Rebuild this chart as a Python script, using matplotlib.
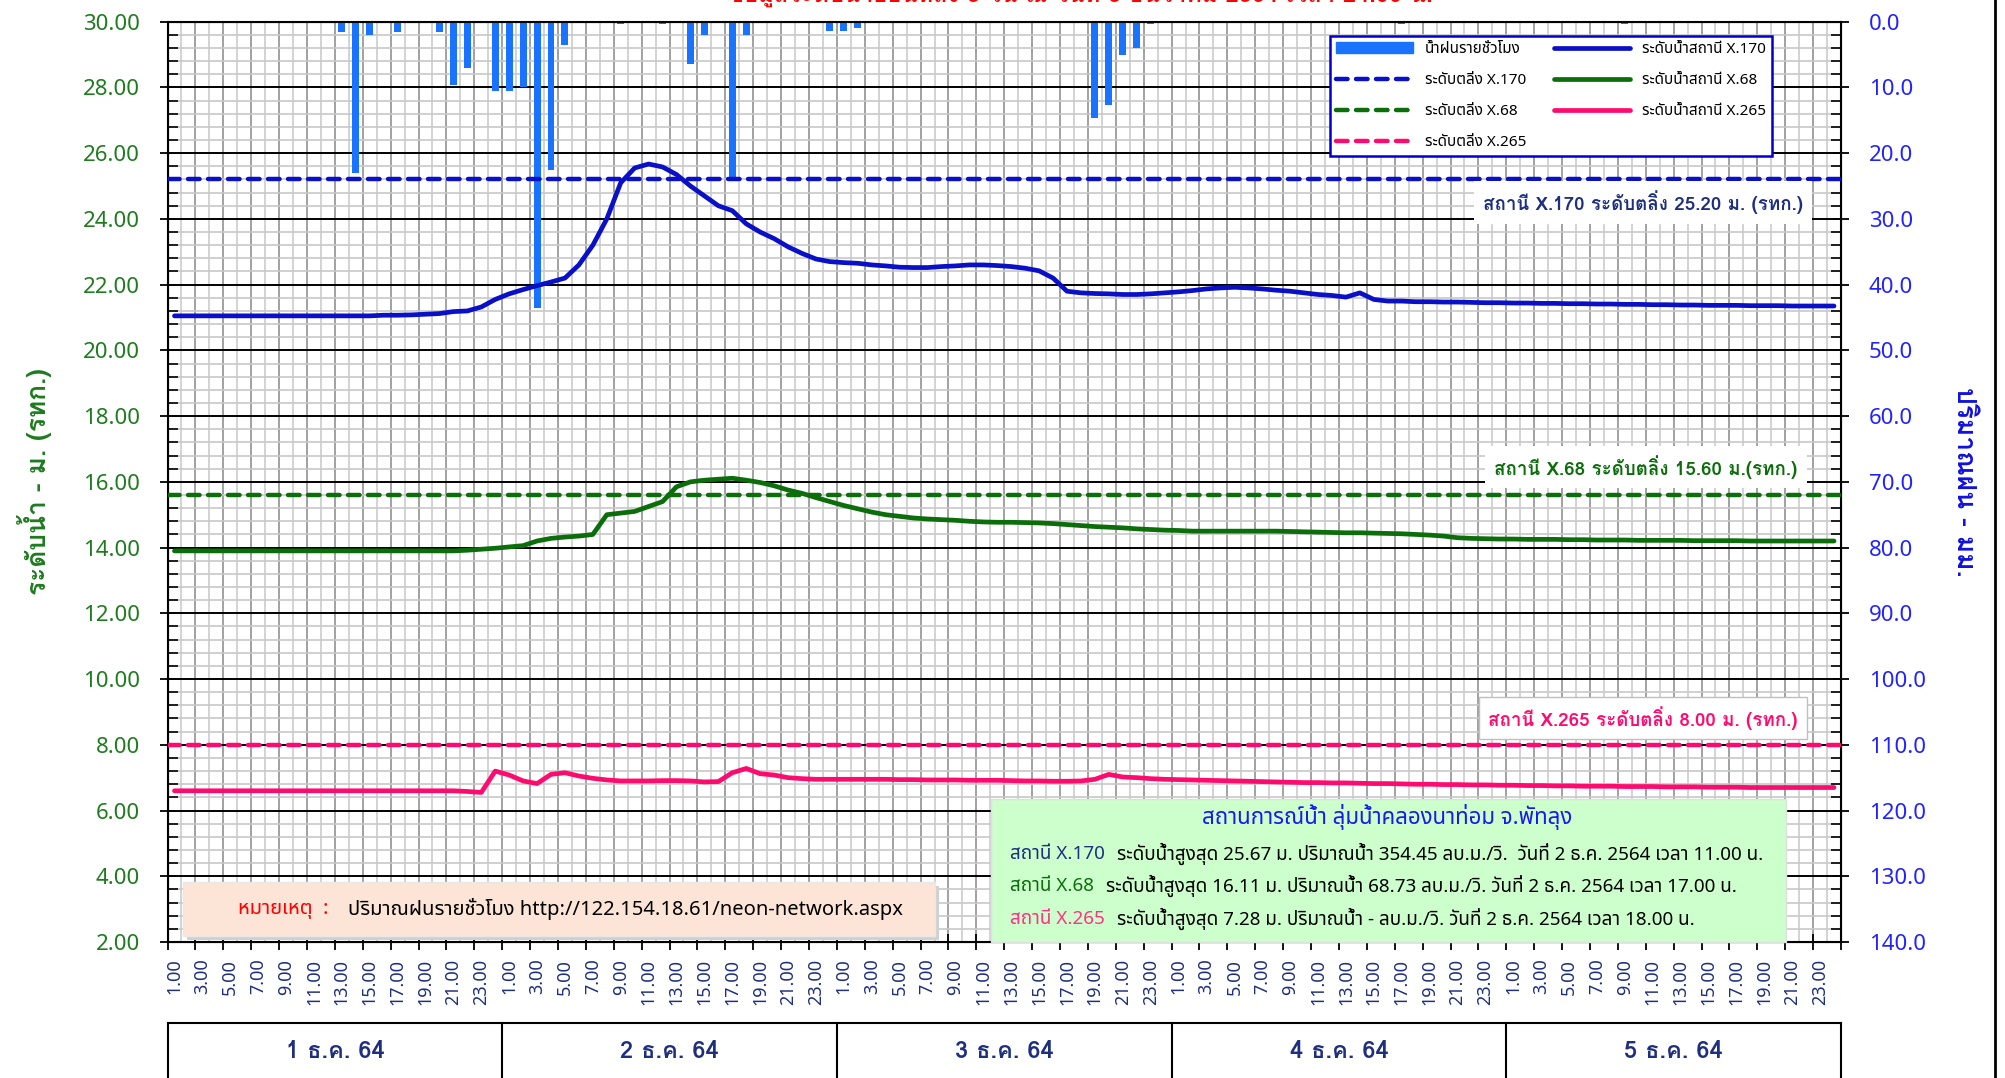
import numpy as np
import matplotlib
matplotlib.use("Agg")
import matplotlib.pyplot as plt
from matplotlib import font_manager, ft2font
from matplotlib.patches import Rectangle, Patch
from matplotlib.lines import Line2D
from matplotlib.text import Annotation
import matplotlib.transforms as mtrans

# --- pick fonts that have Thai glyphs (regular and bold) ---
thai_fonts = set()
thai_bold = set()
for f in font_manager.fontManager.ttflist:
    try:
        cm = ft2font.FT2Font(f.fname).get_charmap()
    except Exception:
        continue
    if 0x0E01 in cm and 0x0E49 in cm:
        thai_fonts.add(f.name)
        w = f.weight if isinstance(f.weight, int) else {"bold": 700}.get(f.weight, 400)
        if w >= 600 and f.style == "normal":
            thai_bold.add(f.name)
PREF = ["Noto Sans Thai", "Noto Sans Thai UI", "Loma", "Tahoma"]
THAI = next((n for n in PREF if n in thai_fonts),
            sorted(thai_fonts)[0] if thai_fonts else "DejaVu Sans")
THAI_B = next((n for n in PREF if n in thai_bold), THAI)
plt.rcParams["font.family"] = [THAI, "DejaVu Sans"]
BOLD = dict(family=[THAI_B, "DejaVu Sans"], fontweight="bold")

# --- DATA ---
DAYS = ["1 ธ.ค. 64", "2 ธ.ค. 64", "3 ธ.ค. 64", "4 ธ.ค. 64", "5 ธ.ค. 64"]
HOURS = [f"{h}.00" for h in range(1, 25)]

# ระดับน้ำสถานี X.170 (ม. รทก.) รายชั่วโมง
level_x170 = [
    21.05, 21.05, 21.05, 21.05, 21.05, 21.05, 21.05, 21.05, 21.05, 21.05, 21.05, 21.05,
    21.05, 21.05, 21.05, 21.07, 21.07, 21.08, 21.10, 21.12, 21.18, 21.20, 21.32, 21.55,
    21.72, 21.85, 21.97, 22.08, 22.20, 22.60, 23.20, 24.00, 25.10, 25.55, 25.67, 25.58,
    25.35, 25.00, 24.70, 24.40, 24.25, 23.85, 23.60, 23.40, 23.15, 22.95, 22.78, 22.70,
    22.67, 22.65, 22.60, 22.57, 22.53, 22.52, 22.52, 22.55, 22.57, 22.60, 22.60, 22.58,
    22.55, 22.50, 22.42, 22.20, 21.80, 21.75, 21.73, 21.72, 21.70, 21.70, 21.72, 21.75,
    21.78, 21.82, 21.87, 21.90, 21.92, 21.90, 21.87, 21.83, 21.80, 21.75, 21.70, 21.67,
    21.62, 21.75, 21.55, 21.50, 21.50, 21.48, 21.48, 21.47, 21.47, 21.46, 21.45, 21.45,
    21.44, 21.44, 21.43, 21.43, 21.42, 21.42, 21.41, 21.41, 21.40, 21.40, 21.39, 21.39,
    21.38, 21.38, 21.37, 21.37, 21.37, 21.36, 21.36, 21.36, 21.35, 21.35, 21.35, 21.35,
]
level_x68 = [
    13.90, 13.90, 13.90, 13.90, 13.90, 13.90, 13.90, 13.90, 13.90, 13.90, 13.90, 13.90,
    13.90, 13.90, 13.90, 13.90, 13.90, 13.90, 13.90, 13.90, 13.90, 13.92, 13.95, 13.98,
    14.02, 14.06, 14.20, 14.28, 14.32, 14.35, 14.40, 15.00, 15.05, 15.10, 15.25, 15.40,
    15.85, 16.00, 16.05, 16.08, 16.11, 16.05, 15.98, 15.88, 15.75, 15.65, 15.52, 15.40,
    15.28, 15.18, 15.08, 15.00, 14.95, 14.90, 14.87, 14.85, 14.83, 14.80, 14.78, 14.77,
    14.77, 14.76, 14.75, 14.73, 14.70, 14.67, 14.64, 14.62, 14.60, 14.57, 14.55, 14.53,
    14.52, 14.50, 14.50, 14.50, 14.50, 14.50, 14.50, 14.50, 14.49, 14.48, 14.47, 14.46,
    14.45, 14.45, 14.44, 14.43, 14.42, 14.40, 14.38, 14.35, 14.30, 14.28, 14.27, 14.26,
    14.26, 14.25, 14.25, 14.25, 14.24, 14.24, 14.23, 14.23, 14.23, 14.22, 14.22, 14.22,
    14.22, 14.21, 14.21, 14.21, 14.21, 14.20, 14.20, 14.20, 14.20, 14.20, 14.20, 14.20,
]
level_x265 = [
    6.60, 6.60, 6.60, 6.60, 6.60, 6.60, 6.60, 6.60, 6.60, 6.60, 6.60, 6.60,
    6.60, 6.60, 6.60, 6.60, 6.60, 6.60, 6.60, 6.60, 6.60, 6.58, 6.55, 7.20,
    7.08, 6.90, 6.82, 7.10, 7.15, 7.05, 6.98, 6.93, 6.90, 6.90, 6.90, 6.91,
    6.91, 6.90, 6.87, 6.88, 7.15, 7.28, 7.12, 7.08, 7.00, 6.97, 6.95, 6.95,
    6.95, 6.95, 6.95, 6.95, 6.94, 6.94, 6.93, 6.93, 6.93, 6.92, 6.92, 6.92,
    6.91, 6.90, 6.90, 6.89, 6.89, 6.90, 6.95, 7.10, 7.02, 7.00, 6.97, 6.95,
    6.94, 6.93, 6.92, 6.91, 6.90, 6.89, 6.88, 6.87, 6.86, 6.85, 6.85, 6.84,
    6.84, 6.83, 6.82, 6.82, 6.81, 6.80, 6.80, 6.79, 6.79, 6.78, 6.78, 6.77,
    6.77, 6.76, 6.76, 6.75, 6.75, 6.74, 6.74, 6.74, 6.73, 6.73, 6.73, 6.72,
    6.72, 6.72, 6.71, 6.71, 6.71, 6.70, 6.70, 6.70, 6.70, 6.70, 6.70, 6.70,
]
# น้ำฝนรายชั่วโมง (มม.)
rain = [
    0, 0, 0, 0, 0, 0, 0, 0, 0, 0, 0, 0, 1.6, 23.0, 2.0, 0, 1.6, 0, 0, 1.6, 9.7, 7.0, 0, 10.5,
    10.5, 10.0, 43.5, 22.5, 3.5, 0, 0, 0, 0.4, 0, 0, 0.4, 0, 6.4, 2.0, 0, 24.0, 2.0, 0, 0, 0, 0, 0, 1.4,
    1.4, 1.0, 0, 0, 0, 0, 0, 0, 0, 0, 0, 0, 0, 0, 0, 0, 0, 0, 14.6, 12.6, 5.0, 4.0, 0.4, 0,
    0, 0, 0, 0, 0, 0, 0, 0, 0, 0, 0, 0, 0, 0, 0, 0, 0.4, 0, 0, 0, 0, 0, 0, 0,
    0, 0, 0, 0, 0, 0, 0, 0, 0.4, 0, 0, 0, 0, 0, 0, 0, 0, 0, 0, 0, 0, 0, 0, 0,
]
bank_x170 = 25.20
bank_x68 = 15.60
bank_x265 = 8.00

C170 = "#0A10C8"
C68 = "#0B6E0B"
C265 = "#FF0A6E"
CRAIN = "#1A73FF"
NAVY = "#1F2F80"

W, H = 2005, 1078
fig = plt.figure(figsize=(W / 100, H / 100), dpi=100)


def fx(px):
    return px / W


def fy(py):
    return 1 - py / H


def fig_follow(after, s, gap, **kw):
    # text placed right after another figure text
    a = Annotation(s, xy=(1, 0.5), xycoords=after, xytext=(gap, 0),
                   textcoords="offset points", va="center", annotation_clip=False, **kw)
    a.set_zorder(4)
    fig.add_artist(a)
    return a


ax = fig.add_axes([fx(167.5), fy(942), fx(1841) - fx(167.5), fy(21.7) - fy(942)])
ax2 = ax.twinx()
ax.set_zorder(ax2.get_zorder() + 1)
ax.patch.set_visible(False)

x = np.arange(len(level_x170))

# --- rain axis (behind) with the grid ---
ax2.bar(x, rain, width=0.5, color=CRAIN, zorder=3)
ax2.set_ylim(140, 0)
ax2.set_yticks(np.arange(0, 141, 10))
ax2.set_yticks(np.arange(0, 141, 2), minor=True)
ax2.yaxis.set_major_formatter(matplotlib.ticker.FormatStrFormatter("%.1f"))
ax2.tick_params(axis="y", which="major", direction="inout", length=12, width=1.3,
                labelsize=16, labelcolor="#2222FF", pad=14)
ax2.tick_params(axis="y", which="minor", direction="in", length=7, width=1.2)
ax2.grid(axis="y", which="minor", color="#C8C8C8", lw=1.2, zorder=0)
ax2.grid(axis="y", which="major", color="black", lw=1.4, zorder=1)
for b in np.arange(-0.5, 120, 1):
    dark = int(b + 0.5) % 2 == 0
    ax2.axvline(b, color="#9A9A9A" if dark else "#D0D0D0", lw=1.3, zorder=0.5)
ax2.set_ylabel("ปริมาณฝน - มม.", color="#1010E0", fontsize=19, rotation=270,
               labelpad=36, **BOLD)

# --- water level axis (front) ---
ax.plot(x, level_x170, color=C170, lw=3.4, solid_capstyle="round", label="ระดับน้ำสถานี X.170", zorder=5)
ax.plot(x, level_x68, color=C68, lw=3.4, solid_capstyle="round", label="ระดับน้ำสถานี X.68", zorder=5)
ax.plot(x, level_x265, color=C265, lw=3.4, solid_capstyle="round", label="ระดับน้ำสถานี X.265", zorder=5)
dash = dict(lw=3.2, dashes=(2.6, 1.9), dash_capstyle="round", zorder=4)
ax.axhline(bank_x170, color=C170, label="ระดับตลิ่ง X.170", **dash)
ax.axhline(bank_x68, color=C68, label="ระดับตลิ่ง X.68", **dash)
ax.axhline(bank_x265, color=C265, label="ระดับตลิ่ง X.265", **dash)

ax.set_xlim(-0.5, len(x) - 0.5)
ax.set_ylim(2, 30)
ax.set_yticks(np.arange(2, 31, 2))
ax.set_yticks(np.arange(2, 30.01, 0.4), minor=True)
ax.yaxis.set_major_formatter(matplotlib.ticker.FormatStrFormatter("%.2f"))
ax.tick_params(axis="y", which="major", direction="inout", length=12, width=1.3,
               labelsize=16, labelcolor="#1E7B1E", pad=14)
ax.tick_params(axis="y", which="minor", direction="in", length=7, width=1.2)
ax.set_ylabel("ระดับน้ำ - ม. (รทก.)", color="#1E7B1E", fontsize=19, labelpad=22, **BOLD)

ax.set_xticks(np.arange(-0.5, len(x), 2))
ax.set_xticklabels([])
ax.set_xticks(x[::2], [HOURS[i % 24] for i in x[::2]], minor=True)
ax.tick_params(axis="x", which="major", direction="inout", length=12, width=1.3)
ax.tick_params(axis="x", which="minor", length=0, labelsize=13, labelcolor=NAVY,
               labelrotation=90, pad=12)
for sp in ax.spines.values():
    sp.set_linewidth(1.5)

# bank level notes
box = dict(boxstyle="square,pad=0.5", fc="white", ec="none")
ax.text(105.3, 24.5, "สถานี X.170 ระดับตลิ่ง 25.20 ม. (รทก.)", color=NAVY, fontsize=13.5,
        ha="center", va="center", bbox=box, zorder=6, **BOLD)
ax.text(105.5, 16.45, "สถานี X.68 ระดับตลิ่ง 15.60 ม.(รทก.)", color=C68, fontsize=13.5,
        ha="center", va="center", bbox=box, zorder=6, **BOLD)
ax.text(105.3, 8.82, "สถานี X.265 ระดับตลิ่ง 8.00 ม. (รทก.)", color=C265, fontsize=13.5,
        ha="center", va="center", bbox=dict(boxstyle="square,pad=0.5", fc="white", ec="#BFBFBF"),
        zorder=6, **BOLD)

# legend
handles = [Patch(color=CRAIN, label="น้ำฝนรายชั่วโมง")]
h, l = ax.get_legend_handles_labels()
order = [3, 4, 5, 0, 1, 2]
handles += [h[i] for i in order]
leg = ax.legend(handles=handles, ncol=2, loc="upper left",
                bbox_to_anchor=(fx(1330), fy(36)), bbox_transform=fig.transFigure,
                fontsize=11, handlelength=5, labelspacing=1.05, columnspacing=1.8,
                fancybox=False, borderaxespad=0, framealpha=1)
leg.get_frame().set_edgecolor("#0000CC")
leg.get_frame().set_linewidth(1.8)
leg.set_zorder(10)

# remark box
fig.patches.append(Rectangle((fx(187), fy(940)), fx(935) - fx(183), fy(882) - fy(936),
                             transform=fig.transFigure, fc="#D0D0D0", ec="none", zorder=1))
fig.patches.append(Rectangle((fx(183), fy(936)), fx(935) - fx(183), fy(882) - fy(936),
                             transform=fig.transFigure, fc="#FCE4D6", ec="#E8E8E8", zorder=1))
t1 = fig.text(fx(238), fy(909), "หมายเหตุ  :", color="red", fontsize=14.5, va="center")
fig_follow(t1, "ปริมาณฝนรายชั่วโมง http://122.154.18.61/neon-network.aspx", 14,
           fontsize=14.5, color="black")

# summary box
fig.patches.append(Rectangle((fx(991), fy(942)), fx(1786) - fx(991), fy(799) - fy(942),
                             transform=fig.transFigure, fc="#CCFFCC", ec="#E0E0E0", zorder=1))
fig.text(fx(1387), fy(817), "สถานการณ์น้ำ ลุ่มน้ำคลองนาท่อม จ.พัทลุง", color="#1A1AF0",
         fontsize=16, ha="center", va="center")
summary = [
    ("สถานี X.170", NAVY, "ระดับน้ำสูงสุด 25.67 ม. ปริมาณน้ำ 354.45 ลบ.ม./วิ.  วันที่ 2 ธ.ค. 2564 เวลา 11.00 น.", 854),
    ("สถานี X.68", C68, "ระดับน้ำสูงสุด 16.11 ม. ปริมาณน้ำ 68.73 ลบ.ม./วิ. วันที่ 2 ธ.ค. 2564 เวลา 17.00 น.", 886),
    ("สถานี X.265", "#FF3385", "ระดับน้ำสูงสุด 7.28 ม. ปริมาณน้ำ - ลบ.ม./วิ. วันที่ 2 ธ.ค. 2564 เวลา 18.00 น.", 919),
]
for name, col, rest, py in summary:
    tn = fig.text(fx(1010), fy(py), name, color=col, fontsize=13.6, va="center")
    fig_follow(tn, rest, 9, fontsize=13.6, color="black")

# day row under the x axis
trans = mtrans.blended_transform_factory(ax.transData, fig.transFigure)
ax.add_line(Line2D([-0.5, len(x) - 0.5], [fy(1023), fy(1023)], transform=trans,
                   color="black", lw=1.5, clip_on=False))
for d, name in enumerate(DAYS):
    ax.add_line(Line2D([24 * d - 0.5, 24 * d - 0.5], [0, fy(1023)], transform=trans,
                       color="black", lw=1.5, clip_on=False))
    ax.text(24 * d + 11.5, fy(1052), name, transform=trans, ha="center", va="center",
            fontsize=17, color=NAVY, clip_on=False, **BOLD)
ax.add_line(Line2D([len(x) - 0.5] * 2, [0, fy(1023)], transform=trans,
                   color="black", lw=1.5, clip_on=False))

# right edge line and clipped title
fig.add_artist(Line2D([fx(1995), fx(1995)], [0, 1], transform=fig.transFigure, color="black", lw=2))
fig.text(fx(1080), fy(2), "ข้อมูลระดับน้ำย้อนหลัง 5 วัน ณ วันที่ 5 ธันวาคม 2564 เวลา 24.00 น.",
         color="red", fontsize=17, ha="center", va="baseline", **BOLD)

fig.savefig("out.png", dpi=100)
